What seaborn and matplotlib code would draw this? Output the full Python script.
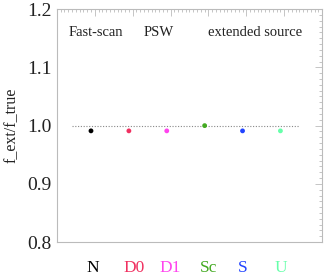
import numpy as np
import pandas as pd
import matplotlib
matplotlib.use('Agg')
import matplotlib.pyplot as plt
import seaborn as sns
from matplotlib.ticker import MultipleLocator

sns.set_style('white')
plt.rcParams['font.family'] = ['Liberation Serif', 'DejaVu Serif']

# Data
bands = ['N', 'D0', 'D1', 'Sc', 'S', 'U']
ratio = [0.991, 0.991, 0.991, 1.000, 0.991, 0.991]
colors = ['#000000', '#f03060', '#ff44ee', '#44aa22', '#2244ff', '#66ffaa']
point_x = [0.9, 1.9, 2.9, 3.9, 4.9, 5.9]
label_x = [0.95, 2.05, 3.0, 4.0, 4.9, 5.9]

df = pd.DataFrame({'band': bands, 'x': point_x, 'ratio': ratio})

fig = plt.figure(figsize=(3.27, 2.77), dpi=100)
ax = fig.add_axes([0.174, 0.126, 0.811, 0.841])

ax.plot([0.4, 6.4], [1.0, 1.0], ls=(0, (1, 1.5)), color='#888888', lw=0.8)
sns.scatterplot(data=df, x='x', y='ratio', hue='band', palette=colors,
                s=12, edgecolor='none', legend=False, ax=ax, zorder=3)

ax.set_xlim(0, 7)
ax.set_ylim(0.8, 1.2)
ax.xaxis.set_major_locator(MultipleLocator(1))
ax.xaxis.set_minor_locator(MultipleLocator(0.1))
ax.yaxis.set_major_locator(MultipleLocator(0.1))
ax.yaxis.set_minor_locator(MultipleLocator(0.01))
ax.set_xticklabels([])
ax.set_yticks([0.8, 0.9, 1.0, 1.1, 1.2])
ax.set_yticklabels(['0.8', '0.9', '1.0', '1.1', '1.2'], fontsize=14, color='#222222')
ax.tick_params(which='both', direction='in', top=True, right=True,
               color='#bbbbbb', width=0.6)
ax.tick_params(which='major', length=5)
ax.tick_params(which='minor', length=2.5)
ax.tick_params(axis='y', pad=4)
for sp in ax.spines.values():
    sp.set_color('#bbbbbb')
    sp.set_linewidth(0.8)

ax.set_xlabel('')
ax.set_ylabel('f_ext/f_true', fontsize=11.5, color='#222222', labelpad=5)

for b, lx, c in zip(bands, label_x, colors):
    ax.text(lx, 0.755, b, color=c, fontsize=12.5, ha='center', va='center',
            clip_on=False)

ax.text(0.3, 1.16, 'Fast-scan', fontsize=10.5, color='#222222', va='center')
ax.text(2.3, 1.16, 'PSW', fontsize=10.5, color='#222222', va='center')
ax.text(4.0, 1.16, 'extended source', fontsize=10.5, color='#222222', va='center')

fig.savefig('out.png', dpi=100)
